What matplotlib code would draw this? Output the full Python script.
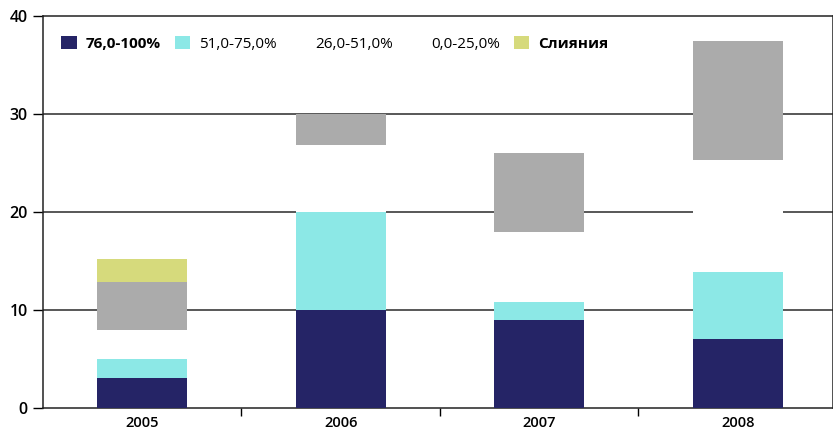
import matplotlib.pyplot as plt
import numpy as np
from matplotlib.patches import Patch

# Данные (значения сегментов)
years = ['2005', '2006', '2007', '2008']
s76_100 = [3.1, 10.0, 9.0, 7.0]
s51_75 = [1.9, 10.0, 1.8, 6.9]
s26_51 = [3.0, 6.8, 7.2, 11.4]
s0_25 = [4.9, 3.2, 8.0, 12.1]
merges = [2.3, 0.0, 0.0, 0.0]

labels = ['76,0-100%', '51,0-75,0%', '26,0-51,0%', '0,0-25,0%', 'Слияния']
series = [s76_100, s51_75, s26_51, s0_25, merges]
colors = ['#252466', '#8ce8e6', '#ffffff', '#ababab', '#d6da7c']
# в легенде на оригинале у двух средних серий маркер не виден
legend_colors = ['#252466', '#8ce8e6', '#ffffff', '#ffffff', '#d6da7c']

plt.rcParams['font.family'] = ['Open Sans', 'DejaVu Sans']

fig = plt.figure(figsize=(8.33, 4.36), dpi=100)
ax = fig.add_axes([43 / 833, 28 / 436, 790 / 833, 392 / 436])

x = np.arange(len(years))
bottom = np.zeros(len(years))
for vals, col in zip(series, colors):
    ax.bar(x, vals, width=0.455, bottom=bottom, color=col, zorder=3)
    bottom += np.array(vals)

# горизонтальные линии сетки
for yv in [10, 20, 30]:
    ax.axhline(yv, color='#2a2a2a', lw=1.1, zorder=2)

ax.set_xlim(-0.5, 3.48)
ax.set_ylim(0, 40)
ax.set_yticks([0, 10, 20, 30, 40])
ax.set_xticks(x)
ax.set_xticklabels(years, fontsize=10.5, fontweight='semibold')
ax.set_xticks([0.5, 1.5, 2.5], minor=True)
ax.tick_params(axis='x', which='major', length=0, pad=6)
ax.tick_params(axis='x', which='minor', length=6, width=1, direction='out')
ax.tick_params(axis='y', length=7, width=1, labelsize=11.5, pad=4)
for t in ax.get_yticklabels():
    t.set_fontweight('semibold')

for s in ['left', 'bottom', 'top', 'right']:
    ax.spines[s].set_color('#222222')
    ax.spines[s].set_linewidth(1.1)

handles = [Patch(facecolor=c, edgecolor='none') for c in legend_colors]
leg = ax.legend(handles, labels, ncol=5, loc='upper left', bbox_to_anchor=(0.006, 0.985),
                frameon=False, fontsize=11, handlelength=1.0, handleheight=1.0,
                handletextpad=0.6, columnspacing=0.9)
texts = leg.get_texts()
texts[0].set_fontweight('bold')
texts[4].set_fontweight('bold')

fig.savefig('out.png', dpi=100)
